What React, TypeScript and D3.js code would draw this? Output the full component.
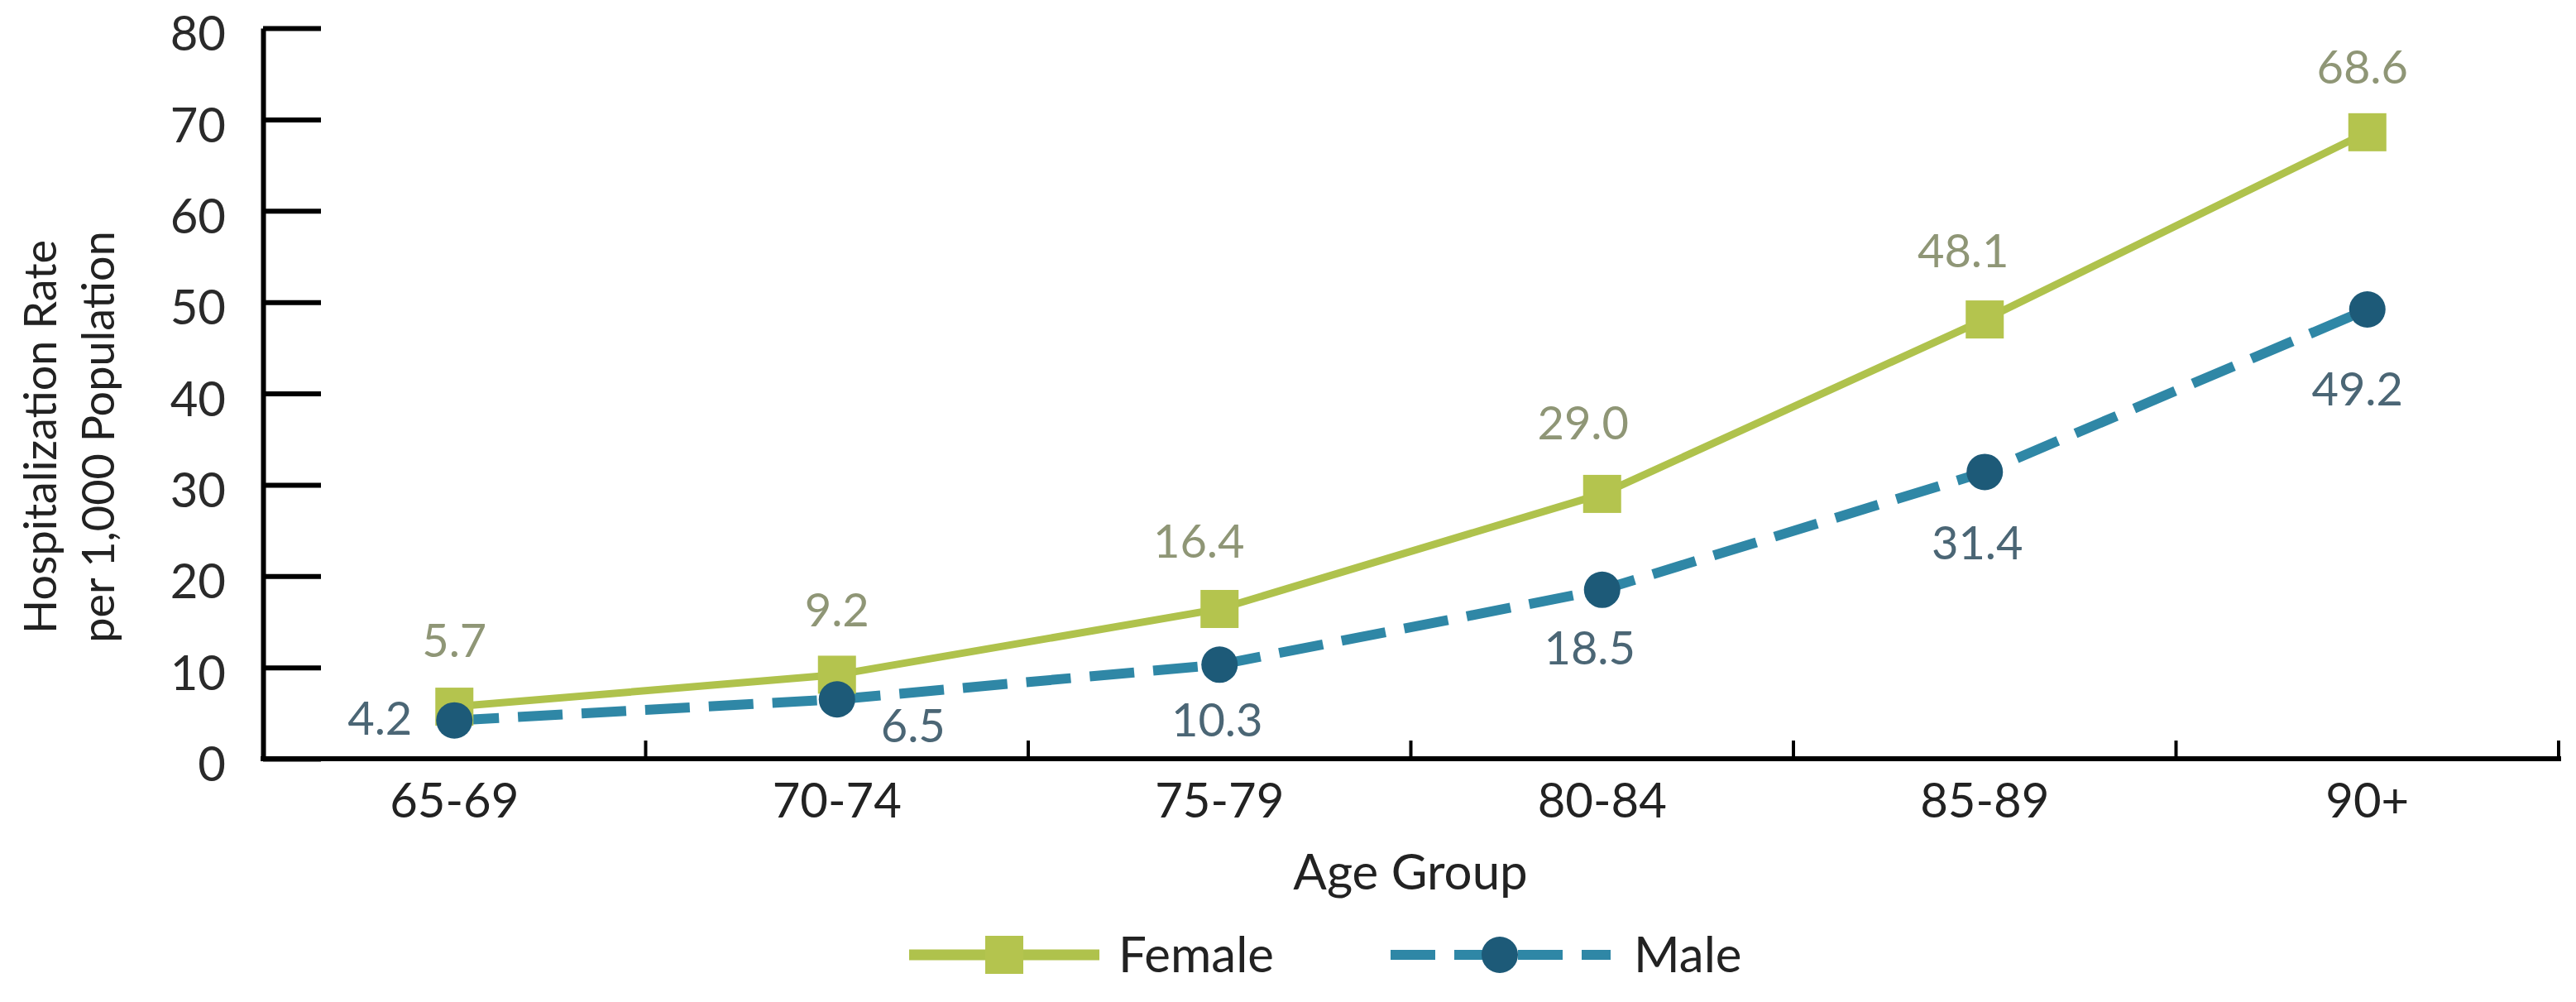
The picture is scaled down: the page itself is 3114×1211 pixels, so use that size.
import React, { useEffect, useRef } from "react";
import * as d3 from "d3";

// chart data
const ageGroups = ["65-69", "70-74", "75-79", "80-84", "85-89", "90+"];
const femaleRates = [5.7, 9.2, 16.4, 29.0, 48.1, 68.6];
const maleRates = [4.2, 6.5, 10.3, 18.5, 31.4, 49.2];
const yTicks = [0, 10, 20, 30, 40, 50, 60, 70, 80];

// label placement relative to each point (dx, dy of label centre)
const femaleLabelOffsets: [number, number][] = [
  [0, -80], [0, -78], [-25, -82], [-23, -86], [-26, -83], [-6, -78],
];
const maleLabelOffsets: [number, number][] = [
  [-90, -2], [92, 32], [-3, 67], [-15, 71], [-9, 86], [-12, 96],
];

const W = 3114;
const H = 1211;
const FONT = "Lato, 'Open Sans', sans-serif";

const FEMALE_LINE = "#afc24c";
const FEMALE_MARK = "#b4c44e";
const FEMALE_TEXT = "#8f9676";
const MALE_LINE = "#2f87a6";
const MALE_MARK = "#1d5a78";
const MALE_TEXT = "#4b6675";

const App: React.FC = () => {
  const ref = useRef<SVGSVGElement | null>(null);

  useEffect(() => {
    document.body.style.margin = "0";
    if (!ref.current) return;
    const svg = d3.select(ref.current);
    svg.selectAll("*").remove();

    const x = d3.scaleBand<string>().domain(ageGroups).range([318, 3093]).padding(0);
    const y = d3.scaleLinear().domain([0, 80]).range([917, 34]);
    const cx = (c: string) => (x(c) as number) + x.bandwidth() / 2;

    // y axis with inward ticks
    const yAxis = d3
      .axisLeft(y)
      .tickValues(yTicks)
      .tickSizeInner(-70)
      .tickSizeOuter(0)
      .tickPadding(45);
    const gy = svg.append("g").attr("transform", "translate(318,0)").call(yAxis);
    gy.select(".domain").attr("stroke", "#000").attr("stroke-width", 6);
    gy.selectAll(".tick line").attr("stroke", "#000").attr("stroke-width", 6);
    gy.selectAll(".tick text")
      .attr("font-family", FONT)
      .attr("font-size", 58)
      .attr("fill", "#2a2a2a")
      .attr("x", -45)
      .attr("dy", "0.46em");

    // x axis line
    svg
      .append("line")
      .attr("x1", 315)
      .attr("x2", 3096)
      .attr("y1", y(0))
      .attr("y2", y(0))
      .attr("stroke", "#000")
      .attr("stroke-width", 6);

    // boundary ticks pointing up
    svg
      .append("g")
      .selectAll("line")
      .data(ageGroups)
      .join("line")
      .attr("x1", (d) => (x(d) as number) + x.bandwidth())
      .attr("x2", (d) => (x(d) as number) + x.bandwidth())
      .attr("y1", y(0))
      .attr("y2", y(0) - 22)
      .attr("stroke", "#000")
      .attr("stroke-width", 4);

    // category labels
    svg
      .append("g")
      .selectAll("text")
      .data(ageGroups)
      .join("text")
      .attr("x", (d) => cx(d))
      .attr("y", 968)
      .attr("dy", "0.35em")
      .attr("text-anchor", "middle")
      .attr("font-family", FONT)
      .attr("font-size", 58)
      .attr("fill", "#222")
      .text((d) => d);

    // axis titles
    svg
      .append("text")
      .attr("x", 1705)
      .attr("y", 1075)
      .attr("text-anchor", "middle")
      .attr("font-family", FONT)
      .attr("font-size", 60)
      .attr("fill", "#222")
      .text("Age Group");

    const yTitle = svg
      .append("text")
      .attr("transform", "translate(0,528) rotate(-90)")
      .attr("text-anchor", "middle")
      .attr("font-family", FONT)
      .attr("font-size", 54)
      .attr("fill", "#222");
    yTitle.append("tspan").attr("x", 0).attr("y", 68).text("Hospitalization Rate");
    yTitle.append("tspan").attr("x", 0).attr("y", 138).text("per 1,000 Population");

    const line = d3
      .line<number>()
      .x((_, i) => cx(ageGroups[i]))
      .y((d) => y(d));

    // male series (drawn first, sits below)
    svg
      .append("path")
      .datum(maleRates)
      .attr("d", line)
      .attr("fill", "none")
      .attr("stroke", MALE_LINE)
      .attr("stroke-width", 12)
      .attr("stroke-dasharray", "54,23");

    // female series
    svg
      .append("path")
      .datum(femaleRates)
      .attr("d", line)
      .attr("fill", "none")
      .attr("stroke", FEMALE_LINE)
      .attr("stroke-width", 9);

    svg
      .append("g")
      .selectAll("rect")
      .data(femaleRates)
      .join("rect")
      .attr("x", (_, i) => cx(ageGroups[i]) - 23)
      .attr("y", (d) => y(d) - 23)
      .attr("width", 46)
      .attr("height", 46)
      .attr("fill", FEMALE_MARK);

    svg
      .append("g")
      .selectAll("circle")
      .data(maleRates)
      .join("circle")
      .attr("cx", (_, i) => cx(ageGroups[i]))
      .attr("cy", (d) => y(d))
      .attr("r", 22)
      .attr("fill", MALE_MARK);

    // value labels
    svg
      .append("g")
      .selectAll("text")
      .data(femaleRates)
      .join("text")
      .attr("x", (_, i) => cx(ageGroups[i]) + femaleLabelOffsets[i][0])
      .attr("y", (d, i) => y(d) + femaleLabelOffsets[i][1])
      .attr("dy", "0.35em")
      .attr("text-anchor", "middle")
      .attr("font-family", FONT)
      .attr("font-size", 56)
      .attr("fill", FEMALE_TEXT)
      .text((d) => d.toFixed(1));

    svg
      .append("g")
      .selectAll("text")
      .data(maleRates)
      .join("text")
      .attr("x", (_, i) => cx(ageGroups[i]) + maleLabelOffsets[i][0])
      .attr("y", (d, i) => y(d) + maleLabelOffsets[i][1])
      .attr("dy", "0.35em")
      .attr("text-anchor", "middle")
      .attr("font-family", FONT)
      .attr("font-size", 56)
      .attr("fill", MALE_TEXT)
      .text((d) => d.toFixed(1));

    // legend
    const legY = 1154;
    const leg = svg.append("g");
    leg
      .append("line")
      .attr("x1", 1099)
      .attr("x2", 1329)
      .attr("y1", legY)
      .attr("y2", legY)
      .attr("stroke", FEMALE_LINE)
      .attr("stroke-width", 13);
    leg
      .append("rect")
      .attr("x", 1214 - 23)
      .attr("y", legY - 23)
      .attr("width", 46)
      .attr("height", 46)
      .attr("fill", FEMALE_MARK);
    leg
      .append("text")
      .attr("x", 1352)
      .attr("y", legY)
      .attr("dy", "0.35em")
      .attr("font-family", FONT)
      .attr("font-size", 60)
      .attr("fill", "#222")
      .text("Female");

    leg
      .append("line")
      .attr("x1", 1681)
      .attr("x2", 1947)
      .attr("y1", legY)
      .attr("y2", legY)
      .attr("stroke", MALE_LINE)
      .attr("stroke-width", 12)
      .attr("stroke-dasharray", "54,23");
    leg
      .append("circle")
      .attr("cx", 1813)
      .attr("cy", legY)
      .attr("r", 22)
      .attr("fill", MALE_MARK);
    leg
      .append("text")
      .attr("x", 1975)
      .attr("y", legY)
      .attr("dy", "0.35em")
      .attr("font-family", FONT)
      .attr("font-size", 60)
      .attr("fill", "#222")
      .text("Male");
  }, []);

  return (
    <svg
      ref={ref}
      width={W}
      height={H}
      style={{ display: "block", background: "#fff" }}
    />
  );
};

export default App;
